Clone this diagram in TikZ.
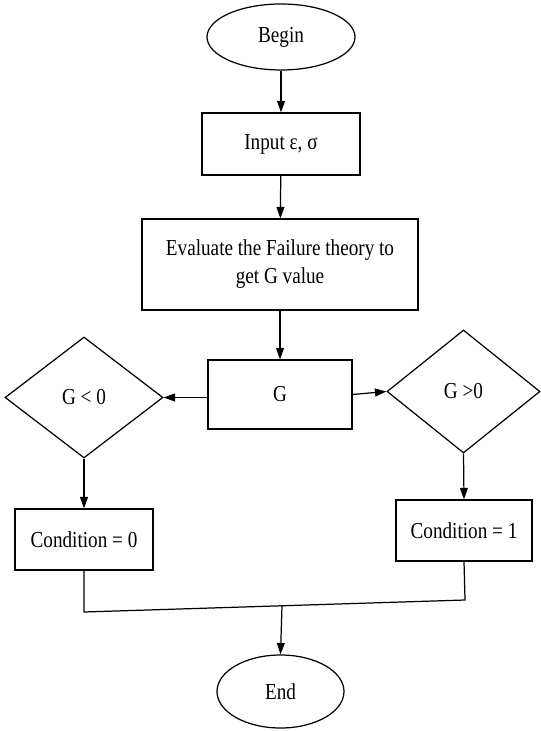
\documentclass[tikz,border=0pt]{standalone}
\usepackage{fontspec}
\setmainfont{Liberation Serif}[FakeStretch=0.84]
\usetikzlibrary{shapes.geometric,arrows.meta}
\tikzset{
  base/.style={draw, line width=0.7pt, inner sep=2pt, align=center,
    font=\fontsize{13}{15.9}\selectfont},
  term/.style={base, ellipse},
  proc/.style={base, rectangle},
  test/.style={base, diamond, inner sep=0pt},
  flow/.style={line width=0.7pt, -{Triangle[length=6.5pt,width=4.5pt]}},
  link/.style={line width=0.7pt}
}
\begin{document}
\begin{tikzpicture}[y=-1cm]
    \useasboundingbox (0,0) rectangle (10.8,14.62);
    \node[term, minimum width=2.96cm, minimum height=1.32cm] (begin) at (5.62,0.74) {Begin};
    \node[proc, minimum width=3.16cm, minimum height=1.24cm] (input) at (5.62,2.88) {Input ε, σ};
    \node[proc, minimum width=5.52cm, minimum height=1.82cm] (eval) at (5.60,5.29) {Evaluate the Failure theory to\\get G value};
    \node[proc, minimum width=2.88cm, minimum height=1.38cm] (g) at (5.60,7.89) {G};
    \node[test, minimum width=3.16cm, minimum height=2.42cm] (lt) at (1.68,7.95) {G < 0};
    \node[test, minimum width=3.06cm, minimum height=2.46cm] (gt) at (9.27,7.83) {G >0};
    \node[proc, minimum width=2.76cm, minimum height=1.22cm] (cond0) at (1.68,10.79) {Condition = 0};
    \node[proc, minimum width=2.72cm, minimum height=1.22cm] (cond1) at (9.28,10.61) {Condition = 1};
    \node[term, minimum width=2.54cm, minimum height=1.46cm] (end) at (5.61,13.83) {End};
    \coordinate (j0) at (1.68,12.24);
    \coordinate (j1) at (9.30,12.00);
    \coordinate (jm) at (5.64,12.12);

    \draw[flow] (begin) -- (input);
    \draw[flow] (input) -- (eval);
    \draw[flow] (eval) -- (g);
    \draw[flow] (g.west |- lt.east) -- (lt.east);
    \draw[flow] (g.east) -- (gt.west);
    \draw[flow] (lt.south) -- (cond0.north);
    \draw[flow] (gt.south) -- (cond1.north);
    \draw[link] (cond0.south) -- (j0) -- (j1) -- (cond1.south);
    \draw[flow] (jm) -- (end.north);
\end{tikzpicture}
\end{document}
